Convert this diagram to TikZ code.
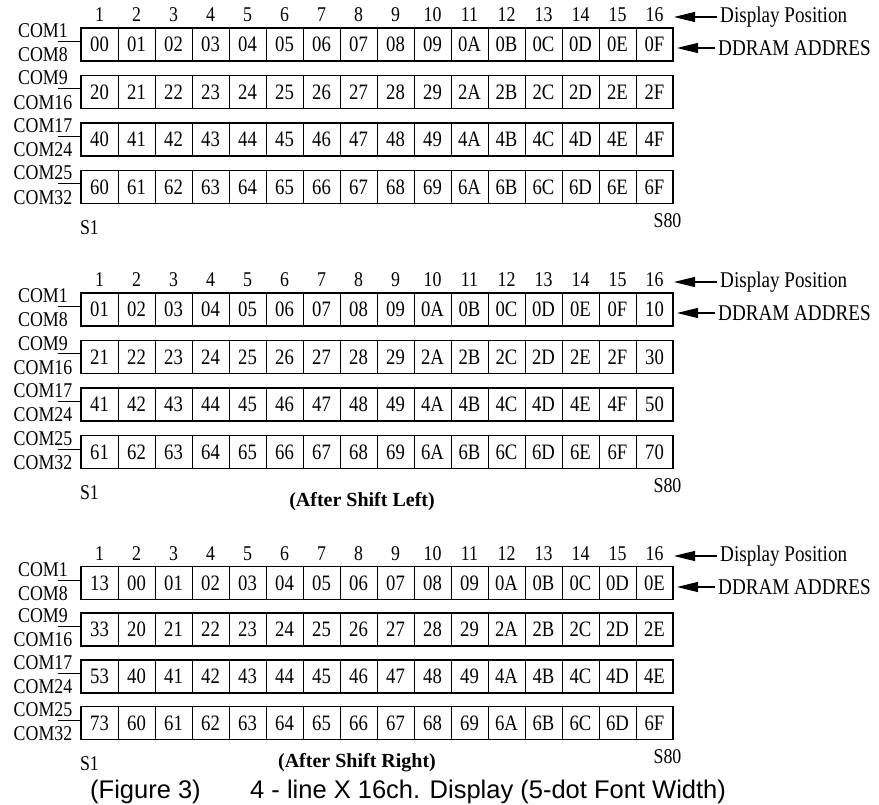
\documentclass[tikz,border=0pt]{standalone}
\usepackage{fontspec}
\setmainfont{Liberation Serif}
\newfontfamily\narrowserif{Liberation Serif}[FakeStretch=0.85]
\newfontfamily\widesans{Liberation Sans}
\usetikzlibrary{positioning,arrows.meta}

\begin{document}
\begin{tikzpicture}[x=1pt, y=-1pt,
    cell/.style={draw, line width=0.9pt, outer sep=0pt, inner sep=0pt,
      minimum width=37pt, minimum height=33pt,
      font=\narrowserif\fontsize{22}{22}\selectfont},
    rowframe/.style={line width=1.6pt},
    lbl/.style={inner sep=0pt, font=\narrowserif\fontsize{21}{21}\selectfont},
    tag/.style={inner xsep=3pt, inner ysep=0pt, anchor=west,
      font=\narrowserif\fontsize{22.5}{22.5}\selectfont},
    shiftnote/.style={inner sep=0pt, font=\bfseries\fontsize{20}{20}\selectfont},
    caption/.style={inner sep=0pt, anchor=west, font=\widesans\fontsize{25.5}{25.5}\selectfont},
    pointer/.style={-{Triangle[length=21pt,width=10pt]}, line width=1.2pt}]
  \useasboundingbox (0,0) rectangle (879,805);

  % Cells before the shift
  \foreach \p [count=\r] in {0,2,4,6}
    \foreach \d [count=\c] in {0,1,2,3,4,5,6,7,8,9,A,B,C,D,E,F}
      \node[cell] (a1-\r-\c) at (62.5+37*\c, 44.5+47.5*\r-47.5) {\p\d};

  % Cells after shift left
  \foreach \p/\q [count=\r] in {0/1,2/3,4/5,6/7}{
    \foreach \d [count=\c] in {1,2,3,4,5,6,7,8,9,A,B,C,D,E,F}
      \node[cell] (a2-\r-\c) at (62.5+37*\c, 309.5+47.5*\r-47.5) {\p\d};
    \node[cell] (a2-\r-16) at (654.5, 309.5+47.5*\r-47.5) {\q0};
  }

  % Cells after shift right
  \foreach \p/\q/\z [count=\r] in {0/1/0E,2/3/2E,4/5/4E,6/7/6F}{
    \node[cell] (a3-\r-1) at (99.5, 583+46.7*\r-46.7) {\q3};
    \foreach \d [count=\c from 2] in {0,1,2,3,4,5,6,7,8,9,A,B,C,D}
      \node[cell] (a3-\r-\c) at (62.5+37*\c, 583+46.7*\r-46.7) {\p\d};
    \node[cell] (a3-\r-16) at (654.5, 583+46.7*\r-46.7) {\z};
  }

  % Frames, COM lines, positions and arrows
  \foreach \k/\t in {1/28, 2/293, 3/567}{
    \foreach \u/\l [count=\r] in {COM1/COM8, COM9/COM16, COM17/COM24, COM25/COM32}{
      \draw[rowframe] (a\k-\r-1.north west) rectangle (a\k-\r-16.south east);
      \path (a\k-\r-1.west) ++(-23,-3) coordinate (com\k-\r);
      \draw[line width=1pt] (com\k-\r) -- (com\k-\r -| a\k-\r-1.west);
      \path (com\k-\r) ++(-15,-4) node[lbl, anchor=base] (up\k-\r) {\u};
      \path (com\k-\r) ++(-15,6) node[lbl, anchor=north] (lo\k-\r) {\l};
    }
    \foreach \c in {1,...,16}
      \node[lbl, above=6pt of a\k-1-\c] (n\k-\c) {\c};
    \node[tag] (disp\k) at (717, \t-11) {Display Position};
    \coordinate (disptip\k) at (674, \t-11);
    \draw[pointer] (disp\k) -- (disptip\k);
    \node[tag] (ddram\k) at (715, \t+20) {DDRAM ADDRES};
    \coordinate (ddramtip\k) at (677, \t+20);
    \draw[pointer] (ddram\k) -- (ddramtip\k);
    \node[lbl, below=17pt of a\k-4-1, xshift=-10pt] (sa\k) {S1};
    \node[lbl, below=10pt of a\k-4-16, xshift=13pt] (sb\k) {S80};
  }

  % Notes and caption
  \node[shiftnote] (shl) at (362, 502) {(After Shift Left)};
  \node[shiftnote] (shr) at (357, 763) {(After Shift Right)};
  \node[caption] (fig) at (90, 792) {(Figure 3)};
  \node[caption] (figtext) at (250, 792) {4 - line X 16ch. Display (5-dot Font Width)};
\end{tikzpicture}
\end{document}
